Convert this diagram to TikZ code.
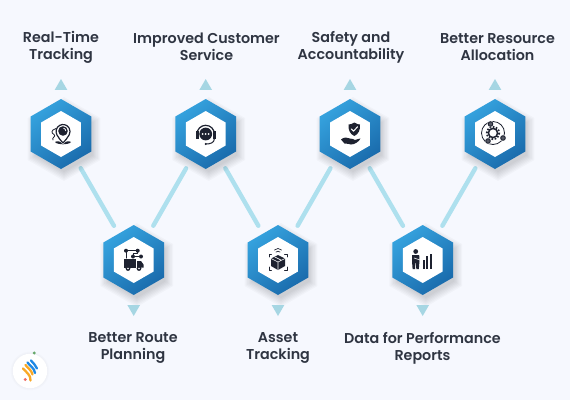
\documentclass[tikz,border=0pt]{standalone}
\usepackage{fontspec}
\setmainfont{Poppins}[BoldFont={Poppins SemiBold}]
\usetikzlibrary{shapes.geometric}
\definecolor{bgc}{HTML}{F6F8FE}
\definecolor{linkc}{HTML}{AEE0EE}
\definecolor{trianglec}{HTML}{A6D6E3}
\definecolor{hexlight}{HTML}{35A2DE}
\definecolor{hexdark}{HTML}{1A6BAC}
\definecolor{ink}{HTML}{1E2230}
\definecolor{labelc}{HTML}{2F3542}
\definecolor{logoblue}{HTML}{1E88E5}
\definecolor{logoorange}{HTML}{F9A825}
\definecolor{logogreen}{HTML}{66A86A}
\definecolor{logored}{HTML}{EF6A63}
\tikzset{
  x=1pt,y=-1pt,
  hexouter/.style={regular polygon,regular polygon sides=6,shape border rotate=30,minimum size=70pt,inner sep=0pt,
    left color=hexlight,right color=hexdark,shading angle=40},
  hexinner/.style={regular polygon,regular polygon sides=6,shape border rotate=30,minimum size=46pt,inner sep=0pt,fill=white},
  arrowup/.style={regular polygon,regular polygon sides=3,minimum size=14.6pt,inner sep=0pt,fill=trianglec},
  arrowdown/.style={arrowup,shape border rotate=180},
  link/.style={linkc,line width=4.4pt,line cap=round,shorten <=39.5pt,shorten >=39.5pt},
  lab/.style={font=\fontsize{14.3}{17}\selectfont\bfseries,text=labelc,align=center,inner sep=0pt},
  inkline/.style={draw=ink,line width=1pt,line cap=round,line join=round},
}
\newcommand{\softshadow}[2]{%
  \foreach \s in {33,34.5,...,42}{%
    \fill[black,opacity=.022,shift={(#1+3,#2+5)}] (90:\s) -- (30:\s) -- (-30:\s) -- (-90:\s) -- (-150:\s) -- (150:\s) -- cycle;}}
\begin{document}
\begin{tikzpicture}
\useasboundingbox (0,0) rectangle (570,400);
\fill[bgc] (0,0) rectangle (570,400);
% named centres
\coordinate (c1) at (61,134);
\coordinate (c2) at (133.7,260);
\coordinate (c3) at (205.7,134);
\coordinate (c4) at (278,260);
\coordinate (c5) at (350,134);
\coordinate (c6) at (422.7,260);
\coordinate (c7) at (495,134);
% connectors
\draw[link] (c1) -- (c2);
\draw[link] (c2) -- (c3);
\draw[link] (c3) -- (c4);
\draw[link] (c4) -- (c5);
\draw[link] (c5) -- (c6);
\draw[link] (c6) -- (c7);
% hexagons
\foreach \n/\px/\py in {1/61/134,2/133.7/260,3/205.7/134,4/278/260,5/350/134,6/422.7/260,7/495/134}{
  \softshadow{\px}{\py}
  \node[hexouter] (h\n) at (c\n) {};
  \node[hexinner] (i\n) at (c\n) {};
}
% triangles
\node[arrowup] (t1) at (61,86.3) {};
\node[arrowup] (t3) at (205.7,86.3) {};
\node[arrowup] (t5) at (350,86.3) {};
\node[arrowup] (t7) at (495,86.3) {};
\node[arrowdown] (t2) at (133.7,308.7) {};
\node[arrowdown] (t4) at (278,308.7) {};
\node[arrowdown] (t6) at (422.7,308.7) {};
% labels
\node[lab] (l1) at (61,47) {Real-Time\\Tracking};
\node[lab] (l3) at (206.5,47) {Improved Customer\\Service};
\node[lab] (l5) at (351,47) {Safety and\\Accountability};
\node[lab] (l7) at (497.5,47) {Better Resource\\Allocation};
\node[lab] (l2) at (133,348) {Better Route\\Planning};
\node[lab] (l4) at (278,348) {Asset\\Tracking};
\node[lab] (l6) at (422.5,348) {Data for Performance\\Reports};
% icon 1: pin
\draw[inkline,line width=1.2pt] (57,135) arc[start angle=150,end angle=390,radius=7] .. controls (68,138) and (65,140) .. (63,143) .. controls (61,140) and (58,138) .. cycle;
\fill[ink] (63,131) circle[radius=4.8];
\draw[white,line width=.8pt] (63.5,128.2) arc[start angle=-80,end angle=0,radius=2.8];
\fill[ink] (55,142) .. controls (58,140.5) and (60,141) .. (63,144.5) .. controls (66,141) and (68,140.5) .. (71,142) .. controls (69,145) and (57,145) .. (55,142) -- cycle;
\draw[inkline,line width=.8pt] (56,128.5) .. controls (51,130) and (51,133) .. (54,134.5) .. controls (57,136) and (51,138) .. (53,140);
% icon 2: headset
\fill[ink] (205.7,134) circle[radius=6.4];
\draw[inkline,line width=1.2pt] (197,134) arc[start angle=180,end angle=360,radius=8.7];
\fill[ink] (195.5,131) rectangle (198.5,138.5);
\fill[ink] (212.9,131) rectangle (215.9,138.5);
\draw[inkline] (214.4,138.5) .. controls (214.4,143) and (210,144) .. (205.7,144);
\fill[ink] (205.7,144) circle[radius=1.1];
\foreach \d in {-3,0,3}{\fill[white] (205.7+\d,134) circle[radius=1];}
% icon 3: route truck
\foreach \a/\b in {126/250.7,137.7/250.7,133/256.5,141/256.5}{\fill[ink] (\a,\b) circle[radius=2];}
\draw[inkline] (126,250.7) -- (137.7,250.7) -- (137.7,253.5) -- (133,253.5) -- (133,256.5) -- (141,256.5);
\draw[inkline] (126,250.7) -- (126,258);
\fill[ink] (124,259) rectangle (136,267.5);
\fill[ink] (137,261) -- (141,261) -- (143.5,264.5) -- (143.5,267.5) -- (137,267.5) -- cycle;
\foreach \a in {128,139}{\fill[ink] (\a,268.5) circle[radius=2.4];\fill[white] (\a,268.5) circle[radius=.9];}
% icon 4: package
\fill[ink] (278,255) -- (285,258.5) -- (285,266) -- (278,270) -- (271,266) -- (271,258.5) -- cycle;
\draw[white,line width=.6pt] (271,258.5) -- (278,262) -- (285,258.5) (278,262) -- (278,270) (274.5,256.8) -- (281.5,260.3);
\draw[inkline,line width=.7pt] (269,257) -- (269,254.5) -- (271.5,254.5) (284.5,254.5) -- (287,254.5) -- (287,257) (269,267) -- (269,270) -- (271.5,270) (284.5,270) -- (287,270) -- (287,267);
\draw[inkline,line width=.7pt] (274.5,250) .. controls (276.5,248) and (279.5,248) .. (281.5,250);
\draw[inkline,line width=.7pt] (276,252) .. controls (277.2,251) and (278.8,251) .. (280,252);
% icon 5: shield and hand
\fill[ink] (354.3,122.5) .. controls (356.5,124) and (358.5,124.5) .. (360,124.5) .. controls (360.5,130) and (358.5,134) .. (354.3,136) .. controls (350,134) and (348,130) .. (348.6,124.5) .. controls (350,124.5) and (352,124) .. (354.3,122.5) -- cycle;
\draw[white,line width=1pt,line cap=round,line join=round] (351.3,129) -- (353.5,131.2) -- (357.5,126.8);
\fill[ink] (341,139.5) .. controls (344,137) and (347,137) .. (350,138.5) .. controls (352,139) and (354,139) .. (355,140) .. controls (357,139.5) and (359,138.5) .. (360.5,138.5) .. controls (359,141.5) and (355,144.5) .. (351,144.5) .. controls (349,144.5) and (347,143) .. (344.5,143.5) -- cycle;
% icon 6: gears orbit
\draw[inkline,line width=.8pt] (493,133) circle[radius=11.5];
\draw[ink,line width=1.8pt,dash pattern=on 1.6pt off 1.6pt] (493,133) circle[radius=6.2];
\draw[ink,line width=1.5pt] (493,133) circle[radius=4.6];
\foreach \a/\b in {490.5/124,488/141,503/138}{\fill[white] (\a,\b) circle[radius=3.2];\draw[ink,line width=.9pt,fill=ink!75] (\a,\b) circle[radius=2.3];}
% icon 7: person and bars
\fill[ink] (415.7,251.5) circle[radius=2.4];
\fill[ink] (412.2,255) -- (419.2,255) -- (419.5,261) -- (418.8,269) -- (416.3,269) -- (416,263) -- (415.4,263) -- (415,269) -- (412.6,269) -- (412,261) -- cycle;
\draw[white,line width=.6pt] (414,258) -- (420,260);
\fill[ink] (422.5,259.5) rectangle (424.5,268.5);
\fill[ink] (425.8,256) rectangle (428.3,268.5);
\fill[ink] (429.7,253.5) rectangle (432.2,268.5);
% logo
\foreach \s in {17.5,18.5,19.5}{\fill[black,opacity=.012] (30,371) circle[radius=\s];}
\fill[white] (30,371) circle[radius=17.2];
\draw[logoorange,line width=2.3pt,line cap=round] (23,368.5) .. controls (26,372) and (31,375) .. (30.5,380.5);
\draw[logoorange,line width=2.3pt,line cap=round] (25.5,365) .. controls (28,368.5) and (31.5,370) .. (32.5,374.5);
\draw[logoblue,line width=2.3pt,line cap=round] (27.5,362.5) .. controls (30,366) and (34.5,368) .. (35,373);
\draw[logoblue,line width=2.3pt,line cap=round] (31,360.5) .. controls (33,363.5) and (36,365) .. (37,368.5);
\fill[logogreen] (34.3,353) circle[radius=1.6];
\fill[logored] (25.3,379.5) circle[radius=1.6];
\end{tikzpicture}
\end{document}
